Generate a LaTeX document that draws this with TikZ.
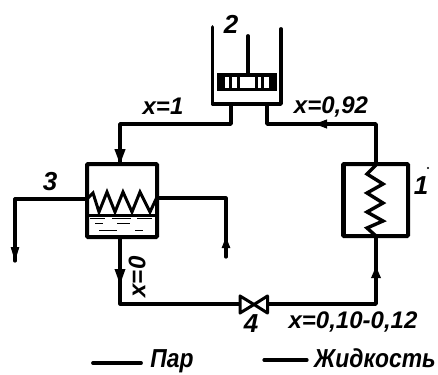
\documentclass[tikz,border=0pt]{standalone}
\usepackage{fontspec}
\usepackage{graphicx}
\setmainfont{Liberation Sans}
\usetikzlibrary{arrows.meta}
\tikzset{
  pipe/.style={line width=3.8pt,line cap=round,line join=round},
  thinpipe/.style={line width=3.2pt,line cap=round,line join=round},
  wall/.style={draw,line width=4pt,rounded corners=1pt,inner sep=0pt,outer sep=0pt},
  coil/.style={line width=3pt,line join=miter},
  tipd/.style={-{Triangle[length=16pt,width=10pt]}},
  tips/.style={-{Triangle[length=12pt,width=9pt]}},
  lab/.style={inner sep=0pt,font=\fontsize{24}{24}\selectfont\bfseries\itshape},
  num/.style={inner sep=0pt,font=\fontsize{26}{26}\selectfont\bfseries\itshape},
  leg/.style={inner sep=0pt,anchor=base,font=\fontsize{26}{26}\selectfont\bfseries\itshape},
  liq/.style={line width=1.6pt}
}
\begin{document}
\begin{tikzpicture}[x=1pt,y=-1pt]
\useasboundingbox (0,0) rectangle (438,374);
% named points
\coordinate (cylTL) at (212.5,27);
\coordinate (cylBL) at (212.5,104);
\coordinate (cylBR) at (281,104);
\coordinate (cylTR) at (281,29);
\coordinate (rodT) at (248,36);
\coordinate (rodB) at (248,73);
\coordinate (portL) at (231,104);
\coordinate (portR) at (267,104);
\coordinate (c1) at (120,124);
\coordinate (c2) at (376,124);
\coordinate (c3) at (120,304);
\coordinate (c4) at (376,304);
% apparatus
\node[wall,minimum width=70pt,minimum height=73pt] (cond) at (122,200.5) {};
\node[wall,minimum width=65pt,minimum height=72pt] (gen) at (375.5,200) {};
\draw[line width=5pt] (gen.north west) -- (gen.south west);
% cylinder
\draw[pipe] (cylTL) -- (cylBL) -- (cylBR) -- (cylTR);
\draw[pipe] (rodT) -- (rodB);
\node[fill=black,minimum width=60pt,minimum height=18pt,inner sep=0pt] (piston) at (247,82) {};
\foreach \a/\b in {225/229,232/237,240/255,258/261,264/269}
  \fill[white] (\a,77) rectangle (\b,88);
% pipes
\draw[pipe] (portL) |- (c1) -- (c1 |- cond.north);
\draw[pipe] (portR) |- (c2) -- (c2 |- gen.north);
\draw[pipe,tipd] (120,148) -- (120,165);
\draw[line width=1pt,tips] (328,124) -- (315,124);
\coordinate (vL) at (239,304);
\coordinate (vR) at (269,304);
\draw[thinpipe] (c3 |- cond.south) -- (c3) -- (vL);
\draw[pipe] (vR) -- (c4) -- (c4 |- gen.south);
\draw[thinpipe,tipd] (120,267) -- (120,285);
\draw[thinpipe,tips] (376,279) -- (376,266);
% valve
\node[inner sep=0pt,minimum size=0pt] (valve) at (254,304.5) {};
\draw[line width=3pt,line join=round] (valve.center) -- (240,296) -- (240,313) -- cycle;
\draw[line width=3pt,line join=round] (valve.center) -- (267.5,296) -- (267.5,313) -- cycle;
% condenser coil and side pipes
\coordinate (h1) at (15,199);
\coordinate (h2) at (15,261);
\coordinate (h3) at (226,198);
\coordinate (h4) at (226,257);
\draw[thinpipe] (h2) -- (h1) -- (cond.west |- h1);
\draw[thinpipe] (cond.east |- h3) -- (h3) -- (h4);
\draw[line width=1pt,-{Triangle[length=14pt,width=8.5pt]}] (15,247) -- (15,261);
\draw[line width=1pt,-{Triangle[length=11pt,width=8.5pt]}] (226,249) -- (226,237);
\draw[coil] (87,199) -- (93,193) -- (99,212) -- (107,192) -- (115,212) -- (123,192) -- (132,212) -- (140,192) -- (150,212) -- (157,197);
\draw[line width=3pt] (cond.west |- 0,215) -- (cond.east |- 0,215);
\foreach \a/\b/\y in {90/105/218.5,112/131/218.5,137/152/218.5,95/103/223.5,117/130/223.5,99/117/230.5,135/143/230.5}
  \draw[liq] (\a,\y) -- (\b,\y);
% generator coil
\draw[coil,line width=3.4pt] (376,165) -- (367,174) -- (383,184) -- (367,193) -- (383,203) -- (367,212) -- (383,221) -- (367,228) -- (376,236);
% labels
\node[num] (n2) at (231,24) {2};
\node[num] (n3) at (50,182) {3};
\node[num] (n4) at (251,324) {4};
\node[num] (n1) at (421,186) {1};
\fill (428,168) circle (1.2pt);
\node[lab] (l1) at (163,106) {x=1};
\node[lab] (l2) at (331,107) {x=0,92};
\node[lab] (l3) at (353,322) {x=0,10-0,12};
\node[lab,rotate=90] (l4) at (137,277) {x=0};
\node[leg] (par) at (172,367) {\scalebox{.88}[1]{Пар}};
\node[leg] (zh) at (375,367) {\scalebox{.88}[1]{Жидкость}};
\coordinate (a1) at (93,363);
\coordinate (a2) at (141,363);
\coordinate (b1) at (264,360);
\coordinate (b2) at (307,360);
\draw[pipe] (a1) -- (a2);
\draw[thinpipe] (b1) -- (b2);
\end{tikzpicture}
\end{document}
